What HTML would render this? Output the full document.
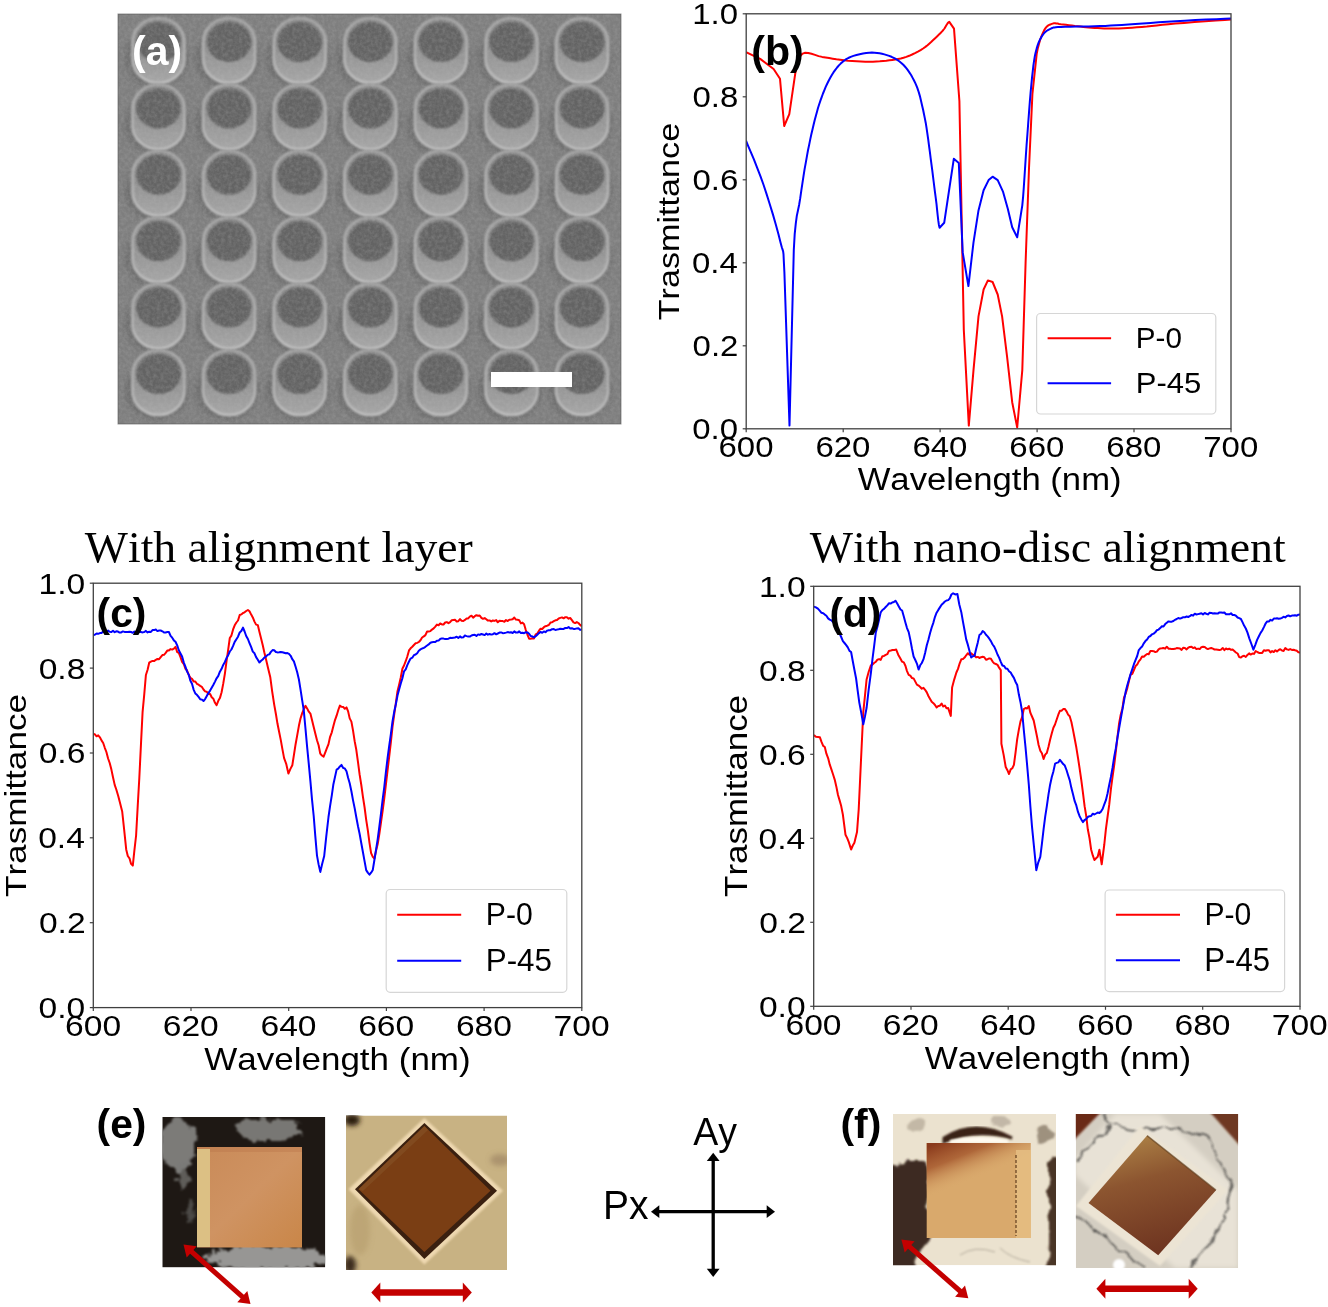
<!DOCTYPE html>
<html><head><meta charset="utf-8"><title>figure</title>
<style>html,body{margin:0;padding:0;background:#fff;} svg{display:block;will-change:transform;} text{font-kerning:none;}</style></head>
<body><svg width="1328" height="1307" viewBox="0 0 1328 1307">
<rect width="1328" height="1307" fill="#fff"/>
<defs><clipPath id="semclip"><rect x="118" y="14" width="503" height="410"/></clipPath><filter id="semnoise" x="0" y="0" width="100%" height="100%"><feTurbulence type="fractalNoise" baseFrequency="0.28" numOctaves="3" seed="3"/><feColorMatrix type="matrix" values="0 0 0 0 0.5  0 0 0 0 0.5  0 0 0 0 0.5  1.6 0 0 0 -0.5"/></filter><filter id="blur1" x="-10%" y="-10%" width="120%" height="120%"><feGaussianBlur stdDeviation="1.2"/></filter><filter id="blur2" x="-30%" y="-30%" width="160%" height="160%"><feGaussianBlur stdDeviation="2.5"/></filter><filter id="blur08"><feGaussianBlur stdDeviation="0.8"/></filter><linearGradient id="bodyg" x1="0" y1="0" x2="0" y2="1"><stop offset="0" stop-color="#888888"/><stop offset="0.5" stop-color="#939393"/><stop offset="1" stop-color="#a6a6a6"/></linearGradient><linearGradient id="rimg" x1="0" y1="0" x2="0" y2="1"><stop offset="0" stop-color="#a6a6a6"/><stop offset="0.6" stop-color="#b4b4b4"/><stop offset="1" stop-color="#c0c0c0"/></linearGradient></defs>
<g clip-path="url(#semclip)">
<rect x="118" y="14" width="503" height="410" fill="#7e7e7e"/>
<g filter="url(#blur2)">
<ellipse cx="156.5" cy="58.0" rx="32" ry="30" fill="#6e6e6e"/>
<ellipse cx="227.1" cy="58.0" rx="32" ry="30" fill="#6e6e6e"/>
<ellipse cx="297.7" cy="58.0" rx="32" ry="30" fill="#6e6e6e"/>
<ellipse cx="368.3" cy="58.0" rx="32" ry="30" fill="#6e6e6e"/>
<ellipse cx="438.9" cy="58.0" rx="32" ry="30" fill="#6e6e6e"/>
<ellipse cx="509.5" cy="58.0" rx="32" ry="30" fill="#6e6e6e"/>
<ellipse cx="580.1" cy="58.0" rx="32" ry="30" fill="#6e6e6e"/>
<ellipse cx="156.5" cy="124.4" rx="32" ry="30" fill="#6e6e6e"/>
<ellipse cx="227.1" cy="124.4" rx="32" ry="30" fill="#6e6e6e"/>
<ellipse cx="297.7" cy="124.4" rx="32" ry="30" fill="#6e6e6e"/>
<ellipse cx="368.3" cy="124.4" rx="32" ry="30" fill="#6e6e6e"/>
<ellipse cx="438.9" cy="124.4" rx="32" ry="30" fill="#6e6e6e"/>
<ellipse cx="509.5" cy="124.4" rx="32" ry="30" fill="#6e6e6e"/>
<ellipse cx="580.1" cy="124.4" rx="32" ry="30" fill="#6e6e6e"/>
<ellipse cx="156.5" cy="190.8" rx="32" ry="30" fill="#6e6e6e"/>
<ellipse cx="227.1" cy="190.8" rx="32" ry="30" fill="#6e6e6e"/>
<ellipse cx="297.7" cy="190.8" rx="32" ry="30" fill="#6e6e6e"/>
<ellipse cx="368.3" cy="190.8" rx="32" ry="30" fill="#6e6e6e"/>
<ellipse cx="438.9" cy="190.8" rx="32" ry="30" fill="#6e6e6e"/>
<ellipse cx="509.5" cy="190.8" rx="32" ry="30" fill="#6e6e6e"/>
<ellipse cx="580.1" cy="190.8" rx="32" ry="30" fill="#6e6e6e"/>
<ellipse cx="156.5" cy="257.2" rx="32" ry="30" fill="#6e6e6e"/>
<ellipse cx="227.1" cy="257.2" rx="32" ry="30" fill="#6e6e6e"/>
<ellipse cx="297.7" cy="257.2" rx="32" ry="30" fill="#6e6e6e"/>
<ellipse cx="368.3" cy="257.2" rx="32" ry="30" fill="#6e6e6e"/>
<ellipse cx="438.9" cy="257.2" rx="32" ry="30" fill="#6e6e6e"/>
<ellipse cx="509.5" cy="257.2" rx="32" ry="30" fill="#6e6e6e"/>
<ellipse cx="580.1" cy="257.2" rx="32" ry="30" fill="#6e6e6e"/>
<ellipse cx="156.5" cy="323.6" rx="32" ry="30" fill="#6e6e6e"/>
<ellipse cx="227.1" cy="323.6" rx="32" ry="30" fill="#6e6e6e"/>
<ellipse cx="297.7" cy="323.6" rx="32" ry="30" fill="#6e6e6e"/>
<ellipse cx="368.3" cy="323.6" rx="32" ry="30" fill="#6e6e6e"/>
<ellipse cx="438.9" cy="323.6" rx="32" ry="30" fill="#6e6e6e"/>
<ellipse cx="509.5" cy="323.6" rx="32" ry="30" fill="#6e6e6e"/>
<ellipse cx="580.1" cy="323.6" rx="32" ry="30" fill="#6e6e6e"/>
<ellipse cx="156.5" cy="390.0" rx="32" ry="30" fill="#6e6e6e"/>
<ellipse cx="227.1" cy="390.0" rx="32" ry="30" fill="#6e6e6e"/>
<ellipse cx="297.7" cy="390.0" rx="32" ry="30" fill="#6e6e6e"/>
<ellipse cx="368.3" cy="390.0" rx="32" ry="30" fill="#6e6e6e"/>
<ellipse cx="438.9" cy="390.0" rx="32" ry="30" fill="#6e6e6e"/>
<ellipse cx="509.5" cy="390.0" rx="32" ry="30" fill="#6e6e6e"/>
<ellipse cx="580.1" cy="390.0" rx="32" ry="30" fill="#6e6e6e"/>
</g>
<path d="M132.5,42.0 A26.0,24 0 0 1 184.5,42.0 L184.5,59.0 A26.0,24 0 0 1 132.5,59.0 Z" fill="url(#bodyg)" stroke="url(#rimg)" stroke-width="2.6" filter="url(#blur08)"/>
<ellipse cx="158.5" cy="42.0" rx="22.3" ry="20" fill="#646464" filter="url(#blur08)"/>
<path d="M203.1,42.0 A26.0,24 0 0 1 255.1,42.0 L255.1,59.0 A26.0,24 0 0 1 203.1,59.0 Z" fill="url(#bodyg)" stroke="url(#rimg)" stroke-width="2.6" filter="url(#blur08)"/>
<ellipse cx="229.1" cy="42.0" rx="22.3" ry="20" fill="#646464" filter="url(#blur08)"/>
<path d="M273.7,42.0 A26.0,24 0 0 1 325.7,42.0 L325.7,59.0 A26.0,24 0 0 1 273.7,59.0 Z" fill="url(#bodyg)" stroke="url(#rimg)" stroke-width="2.6" filter="url(#blur08)"/>
<ellipse cx="299.7" cy="42.0" rx="22.3" ry="20" fill="#646464" filter="url(#blur08)"/>
<path d="M344.3,42.0 A26.0,24 0 0 1 396.3,42.0 L396.3,59.0 A26.0,24 0 0 1 344.3,59.0 Z" fill="url(#bodyg)" stroke="url(#rimg)" stroke-width="2.6" filter="url(#blur08)"/>
<ellipse cx="370.3" cy="42.0" rx="22.3" ry="20" fill="#646464" filter="url(#blur08)"/>
<path d="M414.9,42.0 A26.0,24 0 0 1 466.9,42.0 L466.9,59.0 A26.0,24 0 0 1 414.9,59.0 Z" fill="url(#bodyg)" stroke="url(#rimg)" stroke-width="2.6" filter="url(#blur08)"/>
<ellipse cx="440.9" cy="42.0" rx="22.3" ry="20" fill="#646464" filter="url(#blur08)"/>
<path d="M485.5,42.0 A26.0,24 0 0 1 537.5,42.0 L537.5,59.0 A26.0,24 0 0 1 485.5,59.0 Z" fill="url(#bodyg)" stroke="url(#rimg)" stroke-width="2.6" filter="url(#blur08)"/>
<ellipse cx="511.5" cy="42.0" rx="22.3" ry="20" fill="#646464" filter="url(#blur08)"/>
<path d="M556.1,42.0 A26.0,24 0 0 1 608.1,42.0 L608.1,59.0 A26.0,24 0 0 1 556.1,59.0 Z" fill="url(#bodyg)" stroke="url(#rimg)" stroke-width="2.6" filter="url(#blur08)"/>
<ellipse cx="582.1" cy="42.0" rx="22.3" ry="20" fill="#646464" filter="url(#blur08)"/>
<path d="M132.5,108.4 A26.0,24 0 0 1 184.5,108.4 L184.5,125.4 A26.0,24 0 0 1 132.5,125.4 Z" fill="url(#bodyg)" stroke="url(#rimg)" stroke-width="2.6" filter="url(#blur08)"/>
<ellipse cx="158.5" cy="108.4" rx="22.3" ry="20" fill="#646464" filter="url(#blur08)"/>
<path d="M203.1,108.4 A26.0,24 0 0 1 255.1,108.4 L255.1,125.4 A26.0,24 0 0 1 203.1,125.4 Z" fill="url(#bodyg)" stroke="url(#rimg)" stroke-width="2.6" filter="url(#blur08)"/>
<ellipse cx="229.1" cy="108.4" rx="22.3" ry="20" fill="#646464" filter="url(#blur08)"/>
<path d="M273.7,108.4 A26.0,24 0 0 1 325.7,108.4 L325.7,125.4 A26.0,24 0 0 1 273.7,125.4 Z" fill="url(#bodyg)" stroke="url(#rimg)" stroke-width="2.6" filter="url(#blur08)"/>
<ellipse cx="299.7" cy="108.4" rx="22.3" ry="20" fill="#646464" filter="url(#blur08)"/>
<path d="M344.3,108.4 A26.0,24 0 0 1 396.3,108.4 L396.3,125.4 A26.0,24 0 0 1 344.3,125.4 Z" fill="url(#bodyg)" stroke="url(#rimg)" stroke-width="2.6" filter="url(#blur08)"/>
<ellipse cx="370.3" cy="108.4" rx="22.3" ry="20" fill="#646464" filter="url(#blur08)"/>
<path d="M414.9,108.4 A26.0,24 0 0 1 466.9,108.4 L466.9,125.4 A26.0,24 0 0 1 414.9,125.4 Z" fill="url(#bodyg)" stroke="url(#rimg)" stroke-width="2.6" filter="url(#blur08)"/>
<ellipse cx="440.9" cy="108.4" rx="22.3" ry="20" fill="#646464" filter="url(#blur08)"/>
<path d="M485.5,108.4 A26.0,24 0 0 1 537.5,108.4 L537.5,125.4 A26.0,24 0 0 1 485.5,125.4 Z" fill="url(#bodyg)" stroke="url(#rimg)" stroke-width="2.6" filter="url(#blur08)"/>
<ellipse cx="511.5" cy="108.4" rx="22.3" ry="20" fill="#646464" filter="url(#blur08)"/>
<path d="M556.1,108.4 A26.0,24 0 0 1 608.1,108.4 L608.1,125.4 A26.0,24 0 0 1 556.1,125.4 Z" fill="url(#bodyg)" stroke="url(#rimg)" stroke-width="2.6" filter="url(#blur08)"/>
<ellipse cx="582.1" cy="108.4" rx="22.3" ry="20" fill="#646464" filter="url(#blur08)"/>
<path d="M132.5,174.8 A26.0,24 0 0 1 184.5,174.8 L184.5,191.8 A26.0,24 0 0 1 132.5,191.8 Z" fill="url(#bodyg)" stroke="url(#rimg)" stroke-width="2.6" filter="url(#blur08)"/>
<ellipse cx="158.5" cy="174.8" rx="22.3" ry="20" fill="#646464" filter="url(#blur08)"/>
<path d="M203.1,174.8 A26.0,24 0 0 1 255.1,174.8 L255.1,191.8 A26.0,24 0 0 1 203.1,191.8 Z" fill="url(#bodyg)" stroke="url(#rimg)" stroke-width="2.6" filter="url(#blur08)"/>
<ellipse cx="229.1" cy="174.8" rx="22.3" ry="20" fill="#646464" filter="url(#blur08)"/>
<path d="M273.7,174.8 A26.0,24 0 0 1 325.7,174.8 L325.7,191.8 A26.0,24 0 0 1 273.7,191.8 Z" fill="url(#bodyg)" stroke="url(#rimg)" stroke-width="2.6" filter="url(#blur08)"/>
<ellipse cx="299.7" cy="174.8" rx="22.3" ry="20" fill="#646464" filter="url(#blur08)"/>
<path d="M344.3,174.8 A26.0,24 0 0 1 396.3,174.8 L396.3,191.8 A26.0,24 0 0 1 344.3,191.8 Z" fill="url(#bodyg)" stroke="url(#rimg)" stroke-width="2.6" filter="url(#blur08)"/>
<ellipse cx="370.3" cy="174.8" rx="22.3" ry="20" fill="#646464" filter="url(#blur08)"/>
<path d="M414.9,174.8 A26.0,24 0 0 1 466.9,174.8 L466.9,191.8 A26.0,24 0 0 1 414.9,191.8 Z" fill="url(#bodyg)" stroke="url(#rimg)" stroke-width="2.6" filter="url(#blur08)"/>
<ellipse cx="440.9" cy="174.8" rx="22.3" ry="20" fill="#646464" filter="url(#blur08)"/>
<path d="M485.5,174.8 A26.0,24 0 0 1 537.5,174.8 L537.5,191.8 A26.0,24 0 0 1 485.5,191.8 Z" fill="url(#bodyg)" stroke="url(#rimg)" stroke-width="2.6" filter="url(#blur08)"/>
<ellipse cx="511.5" cy="174.8" rx="22.3" ry="20" fill="#646464" filter="url(#blur08)"/>
<path d="M556.1,174.8 A26.0,24 0 0 1 608.1,174.8 L608.1,191.8 A26.0,24 0 0 1 556.1,191.8 Z" fill="url(#bodyg)" stroke="url(#rimg)" stroke-width="2.6" filter="url(#blur08)"/>
<ellipse cx="582.1" cy="174.8" rx="22.3" ry="20" fill="#646464" filter="url(#blur08)"/>
<path d="M132.5,241.2 A26.0,24 0 0 1 184.5,241.2 L184.5,258.2 A26.0,24 0 0 1 132.5,258.2 Z" fill="url(#bodyg)" stroke="url(#rimg)" stroke-width="2.6" filter="url(#blur08)"/>
<ellipse cx="158.5" cy="241.2" rx="22.3" ry="20" fill="#646464" filter="url(#blur08)"/>
<path d="M203.1,241.2 A26.0,24 0 0 1 255.1,241.2 L255.1,258.2 A26.0,24 0 0 1 203.1,258.2 Z" fill="url(#bodyg)" stroke="url(#rimg)" stroke-width="2.6" filter="url(#blur08)"/>
<ellipse cx="229.1" cy="241.2" rx="22.3" ry="20" fill="#646464" filter="url(#blur08)"/>
<path d="M273.7,241.2 A26.0,24 0 0 1 325.7,241.2 L325.7,258.2 A26.0,24 0 0 1 273.7,258.2 Z" fill="url(#bodyg)" stroke="url(#rimg)" stroke-width="2.6" filter="url(#blur08)"/>
<ellipse cx="299.7" cy="241.2" rx="22.3" ry="20" fill="#646464" filter="url(#blur08)"/>
<path d="M344.3,241.2 A26.0,24 0 0 1 396.3,241.2 L396.3,258.2 A26.0,24 0 0 1 344.3,258.2 Z" fill="url(#bodyg)" stroke="url(#rimg)" stroke-width="2.6" filter="url(#blur08)"/>
<ellipse cx="370.3" cy="241.2" rx="22.3" ry="20" fill="#646464" filter="url(#blur08)"/>
<path d="M414.9,241.2 A26.0,24 0 0 1 466.9,241.2 L466.9,258.2 A26.0,24 0 0 1 414.9,258.2 Z" fill="url(#bodyg)" stroke="url(#rimg)" stroke-width="2.6" filter="url(#blur08)"/>
<ellipse cx="440.9" cy="241.2" rx="22.3" ry="20" fill="#646464" filter="url(#blur08)"/>
<path d="M485.5,241.2 A26.0,24 0 0 1 537.5,241.2 L537.5,258.2 A26.0,24 0 0 1 485.5,258.2 Z" fill="url(#bodyg)" stroke="url(#rimg)" stroke-width="2.6" filter="url(#blur08)"/>
<ellipse cx="511.5" cy="241.2" rx="22.3" ry="20" fill="#646464" filter="url(#blur08)"/>
<path d="M556.1,241.2 A26.0,24 0 0 1 608.1,241.2 L608.1,258.2 A26.0,24 0 0 1 556.1,258.2 Z" fill="url(#bodyg)" stroke="url(#rimg)" stroke-width="2.6" filter="url(#blur08)"/>
<ellipse cx="582.1" cy="241.2" rx="22.3" ry="20" fill="#646464" filter="url(#blur08)"/>
<path d="M132.5,307.6 A26.0,24 0 0 1 184.5,307.6 L184.5,324.6 A26.0,24 0 0 1 132.5,324.6 Z" fill="url(#bodyg)" stroke="url(#rimg)" stroke-width="2.6" filter="url(#blur08)"/>
<ellipse cx="158.5" cy="307.6" rx="22.3" ry="20" fill="#646464" filter="url(#blur08)"/>
<path d="M203.1,307.6 A26.0,24 0 0 1 255.1,307.6 L255.1,324.6 A26.0,24 0 0 1 203.1,324.6 Z" fill="url(#bodyg)" stroke="url(#rimg)" stroke-width="2.6" filter="url(#blur08)"/>
<ellipse cx="229.1" cy="307.6" rx="22.3" ry="20" fill="#646464" filter="url(#blur08)"/>
<path d="M273.7,307.6 A26.0,24 0 0 1 325.7,307.6 L325.7,324.6 A26.0,24 0 0 1 273.7,324.6 Z" fill="url(#bodyg)" stroke="url(#rimg)" stroke-width="2.6" filter="url(#blur08)"/>
<ellipse cx="299.7" cy="307.6" rx="22.3" ry="20" fill="#646464" filter="url(#blur08)"/>
<path d="M344.3,307.6 A26.0,24 0 0 1 396.3,307.6 L396.3,324.6 A26.0,24 0 0 1 344.3,324.6 Z" fill="url(#bodyg)" stroke="url(#rimg)" stroke-width="2.6" filter="url(#blur08)"/>
<ellipse cx="370.3" cy="307.6" rx="22.3" ry="20" fill="#646464" filter="url(#blur08)"/>
<path d="M414.9,307.6 A26.0,24 0 0 1 466.9,307.6 L466.9,324.6 A26.0,24 0 0 1 414.9,324.6 Z" fill="url(#bodyg)" stroke="url(#rimg)" stroke-width="2.6" filter="url(#blur08)"/>
<ellipse cx="440.9" cy="307.6" rx="22.3" ry="20" fill="#646464" filter="url(#blur08)"/>
<path d="M485.5,307.6 A26.0,24 0 0 1 537.5,307.6 L537.5,324.6 A26.0,24 0 0 1 485.5,324.6 Z" fill="url(#bodyg)" stroke="url(#rimg)" stroke-width="2.6" filter="url(#blur08)"/>
<ellipse cx="511.5" cy="307.6" rx="22.3" ry="20" fill="#646464" filter="url(#blur08)"/>
<path d="M556.1,307.6 A26.0,24 0 0 1 608.1,307.6 L608.1,324.6 A26.0,24 0 0 1 556.1,324.6 Z" fill="url(#bodyg)" stroke="url(#rimg)" stroke-width="2.6" filter="url(#blur08)"/>
<ellipse cx="582.1" cy="307.6" rx="22.3" ry="20" fill="#646464" filter="url(#blur08)"/>
<path d="M132.5,374.0 A26.0,24 0 0 1 184.5,374.0 L184.5,391.0 A26.0,24 0 0 1 132.5,391.0 Z" fill="url(#bodyg)" stroke="url(#rimg)" stroke-width="2.6" filter="url(#blur08)"/>
<ellipse cx="158.5" cy="374.0" rx="22.3" ry="20" fill="#646464" filter="url(#blur08)"/>
<path d="M203.1,374.0 A26.0,24 0 0 1 255.1,374.0 L255.1,391.0 A26.0,24 0 0 1 203.1,391.0 Z" fill="url(#bodyg)" stroke="url(#rimg)" stroke-width="2.6" filter="url(#blur08)"/>
<ellipse cx="229.1" cy="374.0" rx="22.3" ry="20" fill="#646464" filter="url(#blur08)"/>
<path d="M273.7,374.0 A26.0,24 0 0 1 325.7,374.0 L325.7,391.0 A26.0,24 0 0 1 273.7,391.0 Z" fill="url(#bodyg)" stroke="url(#rimg)" stroke-width="2.6" filter="url(#blur08)"/>
<ellipse cx="299.7" cy="374.0" rx="22.3" ry="20" fill="#646464" filter="url(#blur08)"/>
<path d="M344.3,374.0 A26.0,24 0 0 1 396.3,374.0 L396.3,391.0 A26.0,24 0 0 1 344.3,391.0 Z" fill="url(#bodyg)" stroke="url(#rimg)" stroke-width="2.6" filter="url(#blur08)"/>
<ellipse cx="370.3" cy="374.0" rx="22.3" ry="20" fill="#646464" filter="url(#blur08)"/>
<path d="M414.9,374.0 A26.0,24 0 0 1 466.9,374.0 L466.9,391.0 A26.0,24 0 0 1 414.9,391.0 Z" fill="url(#bodyg)" stroke="url(#rimg)" stroke-width="2.6" filter="url(#blur08)"/>
<ellipse cx="440.9" cy="374.0" rx="22.3" ry="20" fill="#646464" filter="url(#blur08)"/>
<path d="M485.5,374.0 A26.0,24 0 0 1 537.5,374.0 L537.5,391.0 A26.0,24 0 0 1 485.5,391.0 Z" fill="url(#bodyg)" stroke="url(#rimg)" stroke-width="2.6" filter="url(#blur08)"/>
<ellipse cx="511.5" cy="374.0" rx="22.3" ry="20" fill="#646464" filter="url(#blur08)"/>
<path d="M556.1,374.0 A26.0,24 0 0 1 608.1,374.0 L608.1,391.0 A26.0,24 0 0 1 556.1,391.0 Z" fill="url(#bodyg)" stroke="url(#rimg)" stroke-width="2.6" filter="url(#blur08)"/>
<ellipse cx="582.1" cy="374.0" rx="22.3" ry="20" fill="#646464" filter="url(#blur08)"/>
<rect x="118" y="14" width="503" height="410" filter="url(#semnoise)" opacity="0.25"/>
</g>
<rect x="118" y="14" width="503" height="410" fill="none" stroke="#555" stroke-width="1" opacity="0.6"/>
<rect x="491" y="372" width="81" height="15" fill="#ffffff"/>
<text transform="translate(132.06,65.38) scale(0.9848,1)" font-family='"Liberation Sans", sans-serif' font-weight="bold" font-size="41.52" fill="#ffffff">(a)</text>
<defs><clipPath id="clipb"><rect x="746.2" y="11.8" width="484.79999999999995" height="419.0"/></clipPath></defs>
<g clip-path="url(#clipb)">
<path d="M746.0,52.2 L760.2,58.9 L773.6,69.0 L780.0,78.8 L784.2,126.0 L789.3,114.2 L795.2,73.8 L796.2,69.0 L797.1,64.7 L798.1,61.0 L799.3,57.8 L800.7,55.4 L802.7,53.6 L805.2,52.8 L808.2,53.0 L811.5,53.8 L815.0,54.9 L818.6,56.1 L822.1,56.9 L825.6,57.5 L829.1,58.1 L832.7,58.7 L836.4,59.3 L840.1,59.8 L844.0,60.3 L848.1,60.7 L852.3,61.0 L856.7,61.3 L861.0,61.5 L865.3,61.7 L869.2,61.7 L872.9,61.7 L876.4,61.5 L879.8,61.3 L883.1,61.0 L886.3,60.7 L889.4,60.3 L892.4,59.9 L895.3,59.5 L898.1,59.0 L900.8,58.5 L903.5,57.8 L906.3,56.9 L909.2,55.8 L912.1,54.5 L915.0,53.1 L917.9,51.6 L920.6,50.1 L923.1,48.5 L925.4,46.9 L927.5,45.2 L929.5,43.4 L931.4,41.7 L933.2,40.0 L934.9,38.4 L936.5,36.9 L938.0,35.5 L939.5,34.1 L940.8,32.7 L942.1,31.4 L943.3,30.0 L944.5,28.5 L945.5,26.7 L946.5,25.0 L947.5,23.5 L948.4,22.4 L949.3,21.9 L954.0,28.6 L959.4,101.0 L963.8,329.7 L968.8,425.6 L973.5,370.2 L978.5,316.4 L983.6,289.5 L987.9,280.4 L992.6,282.0 L997.7,294.5 L1002.1,316.4 L1007.1,356.8 L1012.2,402.2 L1017.2,427.5 L1022.3,370.2 L1025.6,262.5 L1029.0,168.3 L1032.4,94.2 L1036.7,53.9 L1037.7,48.8 L1038.9,44.2 L1040.1,40.0 L1041.4,36.3 L1042.8,33.1 L1044.1,30.3 L1045.5,28.1 L1046.9,26.5 L1048.3,25.4 L1049.7,24.7 L1051.2,24.1 L1052.6,23.6 L1053.9,23.3 L1055.1,23.2 L1056.3,23.4 L1057.6,23.6 L1059.1,23.9 L1061.0,24.2 L1063.3,24.5 L1066.0,24.8 L1068.9,25.2 L1071.9,25.6 L1074.9,26.0 L1077.8,26.3 L1080.6,26.6 L1083.3,26.9 L1086.0,27.2 L1088.7,27.5 L1091.6,27.7 L1094.6,27.9 L1097.7,28.1 L1100.8,28.3 L1104.1,28.5 L1107.4,28.6 L1111.0,28.6 L1114.8,28.6 L1118.8,28.5 L1123.1,28.3 L1127.5,28.0 L1132.1,27.7 L1136.8,27.3 L1141.8,26.9 L1146.8,26.5 L1151.7,25.9 L1156.8,25.4 L1162.3,24.8 L1168.5,24.2 L1175.4,23.6 L1184.0,22.9 L1194.4,22.1 L1205.3,21.3 L1215.8,20.6 L1224.7,20.0 L1231.0,19.5" fill="none" stroke="#ff0000" stroke-width="2.0" stroke-linejoin="round"/>
<path d="M746.0,140.6 L747.9,145.3 L750.6,151.6 L753.8,159.2 L757.1,167.6 L760.5,176.4 L763.6,185.0 L766.6,194.1 L769.7,204.0 L772.9,214.4 L775.8,224.5 L778.4,233.9 L780.4,242.0 L781.8,247.2 L782.6,249.6 L783.1,251.2 L783.5,254.2 L783.8,260.6 L784.4,272.5 L789.5,425.6 L793.8,250.0 L794.7,234.1 L795.8,223.3 L796.8,215.9 L798.0,210.3 L799.1,205.0 L800.2,198.4 L801.3,190.7 L802.4,183.3 L803.5,176.1 L804.6,169.2 L805.8,162.6 L806.9,156.3 L808.0,150.3 L809.2,144.6 L810.3,139.1 L811.4,134.0 L812.6,129.0 L813.7,124.3 L814.8,119.8 L815.9,115.7 L817.0,111.8 L818.0,108.0 L819.2,104.3 L820.4,100.7 L821.7,97.1 L823.0,93.5 L824.4,90.1 L825.8,86.7 L827.3,83.5 L828.8,80.5 L830.4,77.6 L832.0,74.8 L833.6,72.2 L835.3,69.8 L837.1,67.5 L838.9,65.4 L840.7,63.6 L842.5,61.9 L844.3,60.5 L846.2,59.2 L848.3,58.0 L850.7,56.9 L853.4,55.9 L856.5,55.0 L859.7,54.2 L863.0,53.5 L866.2,53.0 L869.2,52.7 L871.9,52.6 L874.6,52.7 L877.1,52.9 L879.6,53.3 L882.0,53.8 L884.4,54.4 L886.8,55.1 L889.2,55.9 L891.5,56.8 L893.7,57.9 L895.9,59.0 L897.9,60.3 L899.8,61.7 L901.6,63.2 L903.3,64.8 L904.9,66.5 L906.5,68.4 L908.0,70.4 L909.5,72.6 L911.1,75.0 L912.5,77.6 L913.9,80.2 L915.2,82.9 L916.4,85.6 L917.4,88.2 L918.3,90.8 L919.1,93.4 L919.9,96.1 L920.6,99.1 L921.4,102.4 L922.2,106.0 L923.1,109.8 L923.9,113.8 L924.8,118.1 L925.7,122.7 L926.5,127.7 L927.3,133.2 L928.2,139.3 L929.0,145.7 L929.9,152.2 L930.7,158.6 L931.5,164.7 L932.3,170.6 L933.0,176.3 L933.7,182.0 L934.4,187.6 L935.1,193.1 L935.8,198.4 L936.5,203.9 L937.1,209.8 L937.7,215.5 L938.3,220.7 L938.9,224.9 L939.6,227.8 L944.2,222.8 L953.8,158.8 L958.8,163.0 L962.7,252.4 L968.4,286.1 L973.5,242.3 L978.5,210.4 L983.6,190.2 L988.6,180.1 L992.6,176.7 L997.7,180.1 L1003.1,191.9 L1007.8,208.7 L1012.2,227.2 L1017.2,237.3 L1022.3,205.3 L1023.1,196.9 L1023.8,187.2 L1024.5,176.8 L1025.2,166.0 L1025.9,155.1 L1026.6,144.7 L1027.4,134.3 L1028.2,123.4 L1029.0,112.6 L1029.8,102.2 L1030.6,92.5 L1031.4,84.1 L1032.1,76.9 L1032.8,70.8 L1033.4,65.4 L1034.1,60.7 L1034.8,56.3 L1035.7,52.2 L1036.7,48.4 L1037.7,45.1 L1038.8,42.2 L1040.0,39.6 L1041.2,37.4 L1042.5,35.3 L1043.8,33.5 L1045.1,32.1 L1046.5,31.0 L1047.9,30.1 L1049.4,29.3 L1050.9,28.6 L1052.2,28.0 L1053.3,27.6 L1054.4,27.4 L1055.8,27.2 L1057.9,27.1 L1061.0,26.9 L1065.2,26.7 L1070.5,26.7 L1076.3,26.6 L1082.5,26.5 L1088.7,26.5 L1094.6,26.3 L1100.1,26.1 L1105.3,25.9 L1110.6,25.6 L1116.1,25.3 L1121.9,25.0 L1128.3,24.6 L1135.3,24.1 L1142.7,23.6 L1150.5,23.0 L1158.6,22.3 L1166.9,21.7 L1175.4,21.2 L1184.8,20.7 L1195.4,20.1 L1206.1,19.6 L1216.3,19.2 L1224.9,18.8 L1231.0,18.5" fill="none" stroke="#0000ff" stroke-width="2.0" stroke-linejoin="round"/>
</g>
<rect x="746.2" y="13.8" width="484.79999999999995" height="415.0" fill="none" stroke="#404040" stroke-width="1.3"/>
<line x1="742.7" y1="428.8" x2="746.2" y2="428.8" stroke="#404040" stroke-width="1.2"/>
<text transform="translate(692.24,438.96) scale(1.1180,1)" font-family='"Liberation Sans", sans-serif' font-weight="normal" font-size="29.50" fill="#000">0.0</text>
<line x1="742.7" y1="345.8" x2="746.2" y2="345.8" stroke="#404040" stroke-width="1.2"/>
<text transform="translate(692.61,355.96) scale(1.1180,1)" font-family='"Liberation Sans", sans-serif' font-weight="normal" font-size="29.50" fill="#000">0.2</text>
<line x1="742.7" y1="262.8" x2="746.2" y2="262.8" stroke="#404040" stroke-width="1.2"/>
<text transform="translate(691.92,272.96) scale(1.1180,1)" font-family='"Liberation Sans", sans-serif' font-weight="normal" font-size="29.50" fill="#000">0.4</text>
<line x1="742.7" y1="179.8" x2="746.2" y2="179.8" stroke="#404040" stroke-width="1.2"/>
<text transform="translate(692.40,189.96) scale(1.1180,1)" font-family='"Liberation Sans", sans-serif' font-weight="normal" font-size="29.50" fill="#000">0.6</text>
<line x1="742.7" y1="96.8" x2="746.2" y2="96.8" stroke="#404040" stroke-width="1.2"/>
<text transform="translate(692.39,106.96) scale(1.1180,1)" font-family='"Liberation Sans", sans-serif' font-weight="normal" font-size="29.50" fill="#000">0.8</text>
<line x1="742.7" y1="13.8" x2="746.2" y2="13.8" stroke="#404040" stroke-width="1.2"/>
<text transform="translate(692.24,23.96) scale(1.1180,1)" font-family='"Liberation Sans", sans-serif' font-weight="normal" font-size="29.50" fill="#000">1.0</text>
<line x1="746.2" y1="428.8" x2="746.2" y2="432.3" stroke="#404040" stroke-width="1.2"/>
<text transform="translate(718.49,457.00) scale(1.1180,1)" font-family='"Liberation Sans", sans-serif' font-weight="normal" font-size="29.50" fill="#000">600</text>
<line x1="843.2" y1="428.8" x2="843.2" y2="432.3" stroke="#404040" stroke-width="1.2"/>
<text transform="translate(815.45,457.00) scale(1.1180,1)" font-family='"Liberation Sans", sans-serif' font-weight="normal" font-size="29.50" fill="#000">620</text>
<line x1="940.1" y1="428.8" x2="940.1" y2="432.3" stroke="#404040" stroke-width="1.2"/>
<text transform="translate(912.41,457.00) scale(1.1180,1)" font-family='"Liberation Sans", sans-serif' font-weight="normal" font-size="29.50" fill="#000">640</text>
<line x1="1037.1" y1="428.8" x2="1037.1" y2="432.3" stroke="#404040" stroke-width="1.2"/>
<text transform="translate(1009.37,457.00) scale(1.1180,1)" font-family='"Liberation Sans", sans-serif' font-weight="normal" font-size="29.50" fill="#000">660</text>
<line x1="1134.0" y1="428.8" x2="1134.0" y2="432.3" stroke="#404040" stroke-width="1.2"/>
<text transform="translate(1106.33,457.00) scale(1.1180,1)" font-family='"Liberation Sans", sans-serif' font-weight="normal" font-size="29.50" fill="#000">680</text>
<line x1="1231.0" y1="428.8" x2="1231.0" y2="432.3" stroke="#404040" stroke-width="1.2"/>
<text transform="translate(1203.29,457.00) scale(1.1180,1)" font-family='"Liberation Sans", sans-serif' font-weight="normal" font-size="29.50" fill="#000">700</text>
<text transform="translate(857.65,490.10) scale(1.0943,1)" font-family='"Liberation Sans", sans-serif' font-weight="normal" font-size="31.69" fill="#000">Wavelength (nm)</text>
<text transform="translate(679.30,320.37) rotate(-90) scale(1.1259,1)" font-family='"Liberation Sans", sans-serif' font-weight="normal" font-size="30.37" fill="#000">Trasmittance</text>
<text transform="translate(751.25,64.92) scale(1.0079,1)" font-family='"Liberation Sans", sans-serif' font-weight="bold" font-size="40.87" fill="#000">(b)</text>
<rect x="1036.6" y="313.5" width="179.20000000000005" height="100.5" rx="4" fill="#ffffff" fill-opacity="0.8" stroke="#d6d6d6" stroke-width="1.2"/>
<line x1="1047.6" y1="338.2" x2="1111.1" y2="338.2" stroke="#ff0000" stroke-width="2.0"/>
<line x1="1047.6" y1="383.3" x2="1111.1" y2="383.3" stroke="#0000ff" stroke-width="2.0"/>
<text transform="translate(1135.87,348.11) scale(0.9844,1)" font-family='"Liberation Sans", sans-serif' font-weight="normal" font-size="30.08" fill="#000">P-0</text>
<text transform="translate(1135.76,393.10) scale(1.0197,1)" font-family='"Liberation Sans", sans-serif' font-weight="normal" font-size="30.38" fill="#000">P-45</text>
<defs><clipPath id="clipc"><rect x="93.3" y="581.2" width="488.49999999999994" height="428.4"/></clipPath></defs>
<g clip-path="url(#clipc)">
<path d="M93.3,734.1 L94.9,734.3 L96.6,736.3 L98.2,735.4 L99.9,737.3 L101.5,740.4 L103.2,743.0 L104.8,747.8 L106.4,752.0 L108.1,758.5 L109.7,763.0 L111.4,769.6 L113.0,777.2 L114.7,784.9 L116.3,789.5 L118.3,796.3 L120.3,804.0 L122.2,811.5 L124.2,830.2 L126.2,849.4 L127.8,856.0 L129.5,858.3 L131.1,863.9 L132.8,865.6 L134.4,850.4 L136.1,835.5 L137.7,806.4 L139.3,778.3 L141.0,743.6 L142.6,711.8 L144.3,693.9 L145.9,675.0 L147.6,669.8 L149.2,662.7 L150.9,661.6 L152.5,660.9 L154.1,661.1 L155.8,659.8 L157.4,659.0 L159.1,659.2 L160.7,657.2 L162.4,655.1 L164.0,654.8 L165.7,652.9 L167.3,650.6 L168.9,650.4 L170.6,649.1 L172.2,649.6 L173.9,648.6 L175.5,646.8 L177.2,652.1 L178.8,652.9 L180.5,657.1 L182.1,661.9 L183.8,664.0 L185.4,668.8 L187.0,670.3 L188.7,674.8 L190.3,677.8 L192.0,678.9 L193.6,681.4 L195.3,681.5 L196.9,683.8 L198.6,684.7 L200.2,685.9 L201.8,686.8 L203.5,689.5 L205.1,691.4 L206.8,691.8 L208.4,693.9 L210.1,693.9 L211.7,697.3 L213.4,698.8 L215.0,702.8 L216.6,705.2 L218.3,700.8 L219.9,698.1 L221.6,692.3 L223.2,683.9 L224.9,673.6 L226.5,661.3 L228.2,649.7 L229.8,638.0 L231.4,635.6 L233.1,629.4 L234.7,625.3 L236.4,622.5 L238.0,620.5 L239.7,615.0 L241.3,614.4 L243.0,613.0 L244.6,612.3 L246.2,611.0 L247.9,610.0 L249.5,611.3 L251.2,614.6 L252.8,617.4 L254.5,621.6 L256.1,624.6 L257.8,625.1 L259.4,631.7 L261.1,638.5 L262.7,645.0 L264.3,652.3 L266.0,659.2 L268.1,668.2 L270.3,677.3 L272.2,691.6 L274.2,704.6 L275.9,714.0 L277.5,723.8 L279.1,731.8 L280.8,740.1 L282.4,749.2 L284.1,758.1 L286.2,763.8 L288.4,773.6 L290.3,769.1 L292.3,765.3 L293.9,755.2 L295.6,744.2 L297.2,735.4 L298.9,725.8 L300.5,718.5 L302.2,713.1 L303.8,709.3 L305.5,705.8 L307.1,708.4 L308.8,711.7 L310.4,713.6 L312.0,720.0 L313.7,727.0 L315.3,733.5 L317.0,740.3 L318.6,745.3 L320.3,753.7 L321.9,755.5 L323.6,756.6 L325.2,752.6 L326.8,748.4 L328.5,744.1 L330.1,736.8 L331.8,732.3 L333.4,726.1 L335.0,720.1 L336.6,715.7 L338.3,710.0 L339.9,705.6 L341.5,706.7 L343.2,706.9 L344.8,708.8 L346.5,707.4 L348.1,711.4 L349.7,718.4 L351.4,721.6 L353.0,730.4 L354.7,741.4 L356.3,749.8 L358.0,762.2 L359.6,774.4 L361.3,785.0 L362.9,796.6 L364.6,807.5 L366.2,819.8 L367.8,830.2 L369.5,842.9 L371.1,853.2 L372.8,856.9 L374.4,858.6 L376.1,850.4 L377.7,844.1 L379.4,833.6 L381.0,822.3 L382.6,811.2 L384.3,798.1 L385.9,784.7 L387.6,770.1 L389.2,756.6 L390.9,741.9 L392.5,726.8 L394.2,714.7 L395.8,703.3 L397.5,691.2 L399.1,684.7 L400.7,677.8 L402.4,668.7 L404.0,665.5 L405.7,661.2 L407.3,656.5 L409.0,650.4 L410.6,648.3 L412.3,646.7 L413.9,645.0 L415.6,643.3 L417.2,642.9 L418.8,642.0 L420.5,640.2 L422.1,637.5 L423.8,636.4 L425.4,635.1 L427.1,631.5 L428.7,631.5 L430.4,631.1 L432.0,629.6 L433.7,628.4 L435.3,626.6 L436.9,624.6 L438.6,625.2 L440.2,623.5 L441.9,624.4 L443.5,624.5 L445.2,622.5 L446.8,622.1 L448.5,623.2 L450.1,622.2 L451.8,620.2 L453.4,619.9 L455.0,619.7 L456.7,621.6 L458.3,621.2 L460.0,619.1 L461.6,620.8 L463.3,621.0 L464.9,619.9 L466.6,618.5 L468.2,618.4 L469.8,616.6 L471.5,615.7 L473.1,617.7 L474.8,616.2 L476.4,615.2 L478.1,615.8 L479.7,615.5 L481.4,617.8 L483.0,618.8 L484.7,618.1 L486.3,619.3 L487.9,620.6 L489.6,620.4 L491.2,621.4 L492.9,620.5 L494.5,620.9 L496.2,620.1 L497.8,622.3 L499.5,620.7 L501.1,621.0 L502.8,621.1 L504.4,621.7 L506.0,620.0 L507.7,621.1 L509.3,619.7 L511.0,619.5 L512.6,619.2 L514.3,617.5 L515.9,619.6 L517.6,619.8 L519.2,620.2 L520.9,623.4 L522.5,622.6 L524.1,624.3 L525.8,630.0 L527.4,634.5 L529.1,638.7 L530.7,638.7 L532.4,638.3 L534.0,638.4 L535.7,634.4 L537.3,633.6 L539.0,630.7 L540.6,628.7 L542.2,629.0 L543.9,627.2 L545.5,626.2 L547.2,625.7 L548.8,625.0 L550.5,622.6 L552.1,622.3 L553.8,621.1 L555.4,620.3 L557.0,620.0 L558.7,618.5 L560.3,617.9 L562.0,617.4 L563.6,618.3 L565.3,617.2 L566.9,617.3 L568.6,618.7 L570.2,618.0 L571.9,620.1 L573.5,622.4 L575.1,623.1 L576.8,622.1 L578.4,623.0 L580.1,624.9 L581.7,626.1" fill="none" stroke="#ff0000" stroke-width="2.0" stroke-linejoin="round"/>
<path d="M93.3,635.2 L94.9,634.6 L96.6,633.5 L98.2,633.8 L99.9,633.1 L101.5,633.1 L103.2,631.5 L104.8,632.2 L106.4,631.8 L108.1,630.6 L109.7,631.7 L111.4,632.0 L113.0,630.7 L114.7,632.2 L116.3,631.3 L118.0,631.6 L119.6,632.6 L121.2,632.4 L122.9,631.4 L124.5,631.9 L126.2,632.1 L127.8,631.9 L129.5,631.7 L131.1,632.0 L132.8,632.8 L134.4,631.6 L136.1,632.6 L137.7,632.5 L139.3,631.8 L141.0,632.1 L142.6,632.4 L144.3,632.0 L145.9,630.9 L147.6,632.4 L149.2,631.8 L150.9,631.9 L152.5,630.1 L154.1,630.1 L155.8,629.5 L157.4,631.1 L159.1,630.5 L160.7,630.5 L162.4,631.3 L164.0,632.5 L165.7,632.6 L167.3,631.9 L168.9,632.0 L170.6,635.9 L172.2,637.7 L173.9,640.4 L175.5,641.8 L177.2,645.4 L178.8,650.2 L180.5,653.5 L182.1,656.5 L183.8,662.6 L185.4,666.6 L187.0,671.4 L188.7,674.6 L190.3,680.6 L192.0,683.7 L193.6,689.6 L195.3,693.4 L196.9,694.8 L198.6,696.9 L200.2,699.2 L201.8,699.6 L203.5,701.0 L205.1,699.1 L206.8,696.0 L208.4,693.1 L210.1,690.6 L211.7,687.7 L213.4,684.7 L215.0,681.6 L216.6,678.3 L218.3,675.9 L219.9,671.7 L221.6,668.8 L223.2,664.9 L224.9,662.0 L226.5,658.1 L228.2,655.2 L229.8,651.5 L231.4,649.5 L233.1,645.9 L234.7,641.9 L236.4,639.2 L238.0,636.7 L239.7,632.5 L241.3,631.0 L243.0,627.6 L244.6,631.5 L246.2,636.0 L247.9,639.0 L249.5,643.1 L251.2,647.2 L252.8,651.6 L254.5,653.3 L256.1,657.1 L257.8,659.7 L259.4,662.5 L261.1,660.8 L262.7,659.5 L264.3,657.7 L266.0,656.6 L267.6,654.9 L269.3,654.4 L270.9,651.9 L272.6,650.1 L274.2,650.3 L275.9,652.0 L277.5,652.4 L279.1,652.3 L280.8,652.0 L282.4,652.2 L284.1,652.7 L285.7,653.3 L287.4,653.1 L289.0,653.9 L290.7,655.8 L292.3,659.2 L293.9,661.4 L295.6,666.7 L297.2,672.2 L298.9,679.5 L300.5,689.3 L302.2,700.4 L303.8,710.7 L305.5,728.9 L307.1,746.6 L308.8,764.2 L310.4,781.2 L312.0,799.3 L313.7,816.0 L315.3,836.2 L317.0,855.6 L318.6,864.4 L320.3,871.9 L322.2,863.7 L324.2,856.0 L326.3,836.1 L328.5,817.0 L330.1,805.9 L331.8,795.4 L333.4,784.2 L336.6,769.6 L338.2,768.6 L339.9,766.4 L341.5,764.9 L343.2,768.0 L344.8,768.4 L346.5,771.3 L348.1,777.7 L349.7,783.2 L351.4,791.2 L353.0,800.1 L354.7,808.4 L356.3,817.3 L358.0,826.3 L359.6,833.8 L361.3,843.3 L362.9,852.0 L364.6,861.4 L366.2,870.1 L367.8,872.6 L369.5,874.7 L371.1,872.7 L372.8,869.9 L374.4,860.0 L376.1,849.3 L377.7,839.1 L379.4,826.1 L381.0,813.4 L382.6,799.8 L384.3,786.8 L385.9,772.1 L387.6,757.9 L389.2,745.9 L390.9,733.9 L392.5,721.5 L394.2,711.8 L395.8,704.5 L397.5,695.6 L399.1,689.4 L400.7,683.7 L402.4,678.2 L404.0,671.4 L405.7,669.3 L407.3,665.1 L409.0,661.5 L410.6,658.6 L412.3,657.7 L413.9,655.2 L415.6,654.5 L417.2,653.2 L418.8,650.7 L420.5,649.4 L422.1,648.5 L423.8,647.8 L425.4,646.8 L427.1,645.5 L428.7,644.4 L430.4,642.8 L432.0,642.3 L433.7,641.9 L435.3,642.1 L436.9,640.7 L438.6,640.6 L440.2,639.0 L441.9,638.4 L443.5,638.6 L445.2,639.1 L446.8,639.0 L448.5,638.7 L450.1,637.8 L451.8,638.0 L453.4,637.7 L455.0,637.5 L456.7,636.7 L458.3,637.9 L460.0,636.4 L461.6,637.6 L463.3,637.3 L464.9,635.5 L466.6,636.1 L468.2,636.5 L469.8,636.6 L471.5,635.5 L473.1,635.0 L474.8,634.8 L476.4,635.9 L478.1,634.4 L479.7,634.9 L481.4,634.0 L483.0,634.5 L484.7,635.1 L486.3,633.5 L487.9,634.7 L489.6,634.0 L491.2,634.6 L492.9,634.2 L494.5,633.2 L496.2,634.3 L497.8,633.5 L499.5,632.6 L501.1,632.4 L502.8,633.2 L504.4,633.0 L506.0,632.6 L507.7,632.1 L509.3,632.4 L511.0,632.2 L512.6,633.0 L514.3,631.4 L515.9,632.6 L517.6,632.6 L519.2,631.4 L520.9,633.0 L522.5,632.7 L524.1,633.2 L525.8,632.2 L527.4,632.4 L529.1,633.7 L530.7,636.0 L532.4,636.5 L534.0,637.3 L535.7,636.2 L537.3,634.7 L539.0,633.1 L540.6,631.9 L542.2,632.8 L543.9,631.4 L545.5,632.2 L547.2,630.6 L548.8,630.2 L550.5,630.2 L552.1,629.2 L553.8,629.1 L555.4,630.0 L557.0,629.6 L558.7,629.3 L560.3,628.8 L562.0,629.1 L563.6,628.9 L565.3,628.0 L566.9,628.1 L568.6,627.1 L570.2,628.5 L571.9,628.2 L573.5,628.9 L575.1,628.9 L576.8,628.4 L578.4,628.2 L580.1,629.9 L581.7,629.4" fill="none" stroke="#0000ff" stroke-width="2.0" stroke-linejoin="round"/>
</g>
<rect x="93.3" y="583.2" width="488.49999999999994" height="424.4" fill="none" stroke="#404040" stroke-width="1.3"/>
<line x1="89.8" y1="1007.6" x2="93.3" y2="1007.6" stroke="#404040" stroke-width="1.2"/>
<text transform="translate(38.51,1018.06) scale(1.1050,1)" font-family='"Liberation Sans", sans-serif' font-weight="normal" font-size="30.40" fill="#000">0.0</text>
<line x1="89.8" y1="922.7" x2="93.3" y2="922.7" stroke="#404040" stroke-width="1.2"/>
<text transform="translate(38.89,933.18) scale(1.1050,1)" font-family='"Liberation Sans", sans-serif' font-weight="normal" font-size="30.40" fill="#000">0.2</text>
<line x1="89.8" y1="837.8" x2="93.3" y2="837.8" stroke="#404040" stroke-width="1.2"/>
<text transform="translate(38.19,848.30) scale(1.1050,1)" font-family='"Liberation Sans", sans-serif' font-weight="normal" font-size="30.40" fill="#000">0.4</text>
<line x1="89.8" y1="753.0" x2="93.3" y2="753.0" stroke="#404040" stroke-width="1.2"/>
<text transform="translate(38.68,763.42) scale(1.1050,1)" font-family='"Liberation Sans", sans-serif' font-weight="normal" font-size="30.40" fill="#000">0.6</text>
<line x1="89.8" y1="668.1" x2="93.3" y2="668.1" stroke="#404040" stroke-width="1.2"/>
<text transform="translate(38.66,678.54) scale(1.1050,1)" font-family='"Liberation Sans", sans-serif' font-weight="normal" font-size="30.40" fill="#000">0.8</text>
<line x1="89.8" y1="583.2" x2="93.3" y2="583.2" stroke="#404040" stroke-width="1.2"/>
<text transform="translate(38.51,593.66) scale(1.1050,1)" font-family='"Liberation Sans", sans-serif' font-weight="normal" font-size="30.40" fill="#000">1.0</text>
<line x1="93.3" y1="1007.6" x2="93.3" y2="1011.1" stroke="#404040" stroke-width="1.2"/>
<text transform="translate(65.08,1036.43) scale(1.1050,1)" font-family='"Liberation Sans", sans-serif' font-weight="normal" font-size="30.40" fill="#000">600</text>
<line x1="191.0" y1="1007.6" x2="191.0" y2="1011.1" stroke="#404040" stroke-width="1.2"/>
<text transform="translate(162.78,1036.43) scale(1.1050,1)" font-family='"Liberation Sans", sans-serif' font-weight="normal" font-size="30.40" fill="#000">620</text>
<line x1="288.7" y1="1007.6" x2="288.7" y2="1011.1" stroke="#404040" stroke-width="1.2"/>
<text transform="translate(260.48,1036.43) scale(1.1050,1)" font-family='"Liberation Sans", sans-serif' font-weight="normal" font-size="30.40" fill="#000">640</text>
<line x1="386.4" y1="1007.6" x2="386.4" y2="1011.1" stroke="#404040" stroke-width="1.2"/>
<text transform="translate(358.18,1036.43) scale(1.1050,1)" font-family='"Liberation Sans", sans-serif' font-weight="normal" font-size="30.40" fill="#000">660</text>
<line x1="484.1" y1="1007.6" x2="484.1" y2="1011.1" stroke="#404040" stroke-width="1.2"/>
<text transform="translate(455.88,1036.43) scale(1.1050,1)" font-family='"Liberation Sans", sans-serif' font-weight="normal" font-size="30.40" fill="#000">680</text>
<line x1="581.8" y1="1007.6" x2="581.8" y2="1011.1" stroke="#404040" stroke-width="1.2"/>
<text transform="translate(553.57,1036.43) scale(1.1050,1)" font-family='"Liberation Sans", sans-serif' font-weight="normal" font-size="30.40" fill="#000">700</text>
<text transform="translate(204.25,1070.10) scale(1.0898,1)" font-family='"Liberation Sans", sans-serif' font-weight="normal" font-size="32.12" fill="#000">Wavelength (nm)</text>
<text transform="translate(25.71,897.09) rotate(-90) scale(1.1687,1)" font-family='"Liberation Sans", sans-serif' font-weight="normal" font-size="30.09" fill="#000">Trasmittance</text>
<text transform="translate(96.57,627.00) scale(0.9956,1)" font-family='"Liberation Sans", sans-serif' font-weight="bold" font-size="40.98" fill="#000">(c)</text>
<rect x="386.2" y="889.5" width="180.59999999999997" height="102.79999999999995" rx="4" fill="#ffffff" fill-opacity="0.8" stroke="#d6d6d6" stroke-width="1.2"/>
<line x1="397.2" y1="914.8" x2="461.2" y2="914.8" stroke="#ff0000" stroke-width="2.0"/>
<line x1="397.2" y1="960.8" x2="461.2" y2="960.8" stroke="#0000ff" stroke-width="2.0"/>
<text transform="translate(485.82,925.10) scale(0.9799,1)" font-family='"Liberation Sans", sans-serif' font-weight="normal" font-size="30.79" fill="#000">P-0</text>
<text transform="translate(485.73,971.49) scale(0.9776,1)" font-family='"Liberation Sans", sans-serif' font-weight="normal" font-size="32.10" fill="#000">P-45</text>
<defs><clipPath id="clipd"><rect x="813.7" y="584.3" width="486.29999999999995" height="424.0"/></clipPath></defs>
<g clip-path="url(#clipd)">
<path d="M813.9,735.1 L815.9,736.7 L817.9,736.9 L819.9,737.3 L821.5,741.9 L823.2,745.9 L824.8,747.0 L826.4,753.7 L828.1,758.1 L829.7,764.4 L831.4,769.4 L833.0,774.2 L834.7,779.6 L836.3,786.4 L838.0,795.0 L839.6,800.4 L841.2,806.1 L842.9,814.8 L845.5,834.8 L847.2,838.1 L848.8,842.1 L851.1,849.5 L852.8,845.5 L854.4,842.7 L857.0,832.1 L858.7,809.5 L861.0,760.2 L863.3,711.8 L864.9,696.3 L866.6,679.4 L868.7,671.8 L870.9,665.3 L872.5,664.5 L874.1,663.0 L875.8,661.8 L877.4,659.7 L879.1,659.1 L880.7,659.9 L882.4,656.2 L884.0,655.9 L885.7,654.9 L887.3,654.2 L888.9,650.9 L890.8,650.5 L892.6,650.0 L894.4,649.9 L896.2,649.6 L898.2,654.7 L900.1,658.0 L902.1,661.7 L903.8,662.4 L905.4,665.8 L907.0,671.1 L908.7,674.9 L910.3,675.7 L912.0,678.1 L913.6,678.4 L915.3,681.6 L916.9,684.6 L918.6,685.6 L920.2,687.0 L921.8,688.7 L923.5,687.8 L925.1,689.8 L926.8,692.4 L928.4,696.0 L930.1,699.0 L931.7,701.8 L933.4,703.2 L935.0,705.0 L936.6,707.4 L938.3,706.0 L939.9,705.7 L941.6,703.6 L943.2,706.5 L944.9,705.5 L946.5,708.2 L948.2,708.1 L950.8,715.9 L952.1,687.4 L954.2,679.6 L956.4,672.5 L958.0,668.9 L959.7,663.3 L961.3,659.3 L963.0,659.0 L964.6,657.6 L966.2,655.3 L967.9,653.2 L969.5,654.7 L971.2,653.4 L972.8,654.7 L974.5,655.5 L976.1,657.4 L977.8,656.9 L979.4,658.0 L981.1,657.2 L982.7,656.8 L984.3,657.2 L986.0,659.7 L987.6,659.2 L989.3,658.4 L990.9,658.8 L992.6,661.6 L994.2,663.4 L995.9,664.0 L997.5,664.8 L999.1,667.7 L1000.8,670.1 L1001.4,743.7 L1003.6,754.6 L1005.7,767.0 L1007.4,770.2 L1009.0,774.0 L1010.7,769.4 L1012.3,768.2 L1013.9,764.9 L1015.6,752.2 L1017.2,739.2 L1018.9,729.4 L1020.5,721.4 L1022.2,716.9 L1023.8,709.1 L1025.5,708.0 L1027.1,708.5 L1028.8,706.0 L1030.4,712.9 L1032.0,716.5 L1033.7,720.5 L1035.3,728.3 L1037.0,736.5 L1038.6,745.0 L1040.3,750.8 L1041.9,753.3 L1043.6,759.0 L1045.2,754.6 L1046.8,753.0 L1048.5,746.7 L1050.1,739.8 L1051.8,733.3 L1053.4,727.7 L1055.0,724.5 L1056.6,719.8 L1058.3,714.7 L1059.9,710.8 L1061.5,710.8 L1063.2,709.1 L1064.8,708.9 L1066.5,711.3 L1068.1,714.6 L1069.7,716.3 L1071.4,722.0 L1073.0,729.9 L1074.7,738.7 L1076.3,747.3 L1078.0,757.8 L1079.6,768.3 L1081.3,780.1 L1082.9,792.3 L1084.6,806.2 L1086.2,815.8 L1087.8,829.3 L1089.5,838.0 L1091.1,849.4 L1092.8,855.4 L1094.4,860.0 L1096.1,858.3 L1097.7,856.7 L1099.4,849.7 L1101.7,864.3 L1104.3,844.5 L1105.9,829.2 L1107.6,816.5 L1109.2,804.9 L1110.9,789.2 L1112.5,777.2 L1114.2,765.2 L1115.8,751.9 L1117.5,736.6 L1119.1,723.4 L1120.7,714.7 L1122.4,708.5 L1124.0,697.7 L1125.7,693.4 L1127.3,688.1 L1129.0,680.7 L1130.6,674.7 L1132.3,673.9 L1133.9,670.0 L1135.6,666.1 L1137.2,664.6 L1138.8,661.4 L1140.5,659.3 L1142.1,656.5 L1143.8,656.8 L1145.4,655.3 L1147.1,653.9 L1148.7,654.3 L1150.4,651.0 L1152.0,651.0 L1153.7,651.2 L1155.3,652.1 L1156.9,651.6 L1158.6,649.3 L1160.2,648.4 L1161.9,648.3 L1163.5,648.0 L1165.2,648.7 L1166.8,646.7 L1168.5,648.7 L1170.1,648.7 L1171.8,649.1 L1173.4,649.1 L1175.0,648.8 L1176.7,648.1 L1178.3,648.2 L1180.0,648.5 L1181.6,649.9 L1183.3,647.7 L1184.9,647.9 L1186.6,649.4 L1188.2,647.7 L1189.8,647.0 L1191.5,646.7 L1193.1,648.1 L1194.8,647.3 L1196.4,649.1 L1198.1,648.6 L1199.7,649.1 L1201.4,647.1 L1203.0,646.7 L1204.7,646.9 L1206.3,648.3 L1207.9,649.1 L1209.6,648.4 L1211.2,648.0 L1212.9,648.7 L1214.5,649.5 L1216.2,649.6 L1217.8,649.8 L1219.5,650.1 L1221.1,649.6 L1222.8,648.0 L1224.4,650.1 L1226.0,648.5 L1227.7,649.3 L1229.3,648.7 L1231.0,649.8 L1232.6,649.6 L1234.3,651.1 L1235.9,652.5 L1237.6,653.5 L1239.2,657.1 L1240.9,657.6 L1242.5,656.2 L1244.1,655.8 L1245.8,657.0 L1247.4,654.9 L1249.1,653.4 L1250.7,654.6 L1252.4,653.5 L1254.0,653.9 L1255.7,651.1 L1257.3,652.0 L1259.0,652.9 L1260.6,652.9 L1262.2,652.9 L1263.9,650.2 L1265.5,650.8 L1267.2,650.2 L1268.8,650.2 L1270.5,652.4 L1272.1,651.1 L1273.8,652.0 L1275.4,650.2 L1277.0,651.4 L1278.7,650.0 L1280.3,649.2 L1282.0,650.6 L1283.6,650.9 L1285.3,648.1 L1286.9,649.4 L1288.6,649.9 L1290.2,649.1 L1291.9,649.9 L1293.5,649.7 L1295.1,650.3 L1296.8,650.8 L1298.4,652.3 L1300.1,652.4" fill="none" stroke="#ff0000" stroke-width="2.0" stroke-linejoin="round"/>
<path d="M813.9,606.6 L815.9,607.4 L817.9,608.7 L819.9,610.9 L821.5,612.8 L823.2,613.2 L824.8,614.6 L826.4,615.7 L828.1,618.4 L829.7,619.6 L831.4,620.3 L833.0,622.0 L834.7,624.2 L836.3,627.8 L838.0,631.2 L839.6,633.5 L841.2,637.0 L842.9,641.2 L844.5,643.0 L846.2,645.1 L847.8,647.4 L849.5,650.9 L851.1,652.0 L852.8,661.3 L854.4,669.7 L856.1,678.5 L857.7,690.9 L859.3,702.6 L861.3,713.0 L863.3,724.2 L864.9,716.9 L866.6,707.8 L868.7,689.3 L870.9,672.8 L872.5,658.8 L874.1,646.4 L875.8,632.5 L877.4,626.7 L879.1,619.4 L880.7,612.3 L882.4,610.0 L884.0,608.9 L885.7,607.0 L887.3,605.4 L888.9,603.3 L890.6,603.6 L892.2,602.5 L893.9,602.0 L895.5,600.7 L897.2,603.5 L898.8,606.4 L900.5,609.5 L902.1,610.5 L903.8,616.6 L905.4,622.5 L907.0,628.1 L908.7,632.1 L910.3,639.6 L912.0,648.8 L913.6,656.5 L915.3,660.0 L916.9,663.6 L918.6,669.6 L920.2,665.3 L921.8,663.0 L923.5,659.2 L925.1,653.0 L926.8,645.2 L928.4,639.7 L930.1,633.0 L931.7,627.5 L933.4,622.6 L935.0,616.8 L936.6,612.7 L938.3,609.9 L939.9,607.4 L941.6,604.7 L943.2,603.2 L944.9,601.5 L946.5,600.5 L948.2,600.1 L949.8,598.3 L951.4,594.5 L953.1,593.3 L955.2,594.4 L957.4,594.0 L959.3,604.5 L961.3,612.2 L963.0,621.8 L964.6,630.5 L966.2,639.4 L967.9,644.9 L969.5,651.1 L971.2,657.5 L972.8,656.3 L974.5,655.9 L976.1,649.0 L977.8,642.4 L979.4,635.1 L981.1,633.7 L982.7,631.0 L984.3,632.2 L986.0,634.8 L987.6,636.4 L989.3,638.7 L990.9,641.1 L992.6,644.5 L994.2,646.7 L995.9,650.4 L997.5,654.5 L999.1,657.6 L1000.8,661.8 L1002.4,665.5 L1004.1,666.0 L1005.7,668.4 L1007.4,668.7 L1009.0,671.2 L1010.7,672.6 L1012.3,675.4 L1013.9,677.9 L1015.6,682.0 L1017.2,685.0 L1018.9,694.8 L1020.5,702.2 L1022.2,712.2 L1023.8,730.0 L1025.5,747.1 L1027.1,764.8 L1028.8,784.5 L1030.4,806.7 L1032.0,826.7 L1034.2,848.9 L1036.3,870.2 L1038.3,862.3 L1040.3,856.8 L1041.9,843.9 L1043.6,829.2 L1045.2,816.6 L1046.8,806.3 L1048.5,794.3 L1050.1,784.7 L1051.8,777.0 L1053.4,771.4 L1055.1,763.6 L1056.7,762.9 L1058.3,762.4 L1059.9,759.8 L1061.5,761.8 L1063.2,764.1 L1064.8,765.6 L1066.5,770.0 L1068.1,775.2 L1069.7,780.1 L1071.4,788.1 L1073.0,794.2 L1074.7,801.2 L1076.3,805.4 L1078.0,811.9 L1079.6,816.2 L1081.3,819.4 L1082.9,822.1 L1084.6,820.0 L1086.2,819.2 L1087.8,817.0 L1089.5,816.2 L1091.1,816.0 L1092.8,813.7 L1094.4,814.5 L1096.1,813.5 L1097.7,812.6 L1099.4,812.9 L1101.0,811.6 L1102.6,809.0 L1104.3,804.4 L1105.9,800.2 L1107.6,793.3 L1109.2,785.0 L1110.9,776.9 L1112.5,768.0 L1114.2,756.9 L1115.8,748.4 L1117.5,737.5 L1119.1,728.3 L1120.7,719.1 L1122.4,709.6 L1124.0,700.9 L1125.7,691.5 L1127.3,685.2 L1129.0,679.5 L1130.6,674.0 L1132.3,669.1 L1133.9,664.2 L1135.6,659.8 L1137.2,656.0 L1138.8,650.1 L1140.5,648.1 L1142.1,646.6 L1143.8,643.3 L1145.4,641.1 L1147.1,639.5 L1148.7,636.9 L1150.4,636.0 L1152.0,634.3 L1153.7,633.6 L1155.3,632.3 L1156.9,630.2 L1158.6,629.6 L1160.2,628.1 L1161.9,626.3 L1163.5,626.5 L1165.2,624.1 L1166.8,622.7 L1168.5,621.4 L1170.1,621.8 L1171.8,621.7 L1173.4,621.0 L1175.0,619.8 L1176.7,619.0 L1178.3,618.0 L1180.0,618.6 L1181.6,618.0 L1183.3,617.2 L1184.9,617.3 L1186.6,616.5 L1188.2,617.0 L1189.8,616.2 L1191.5,614.9 L1193.1,615.7 L1194.8,613.7 L1196.4,614.5 L1198.1,614.1 L1199.7,613.7 L1201.4,613.3 L1203.0,614.4 L1204.7,612.9 L1206.3,613.8 L1207.9,614.4 L1209.6,612.8 L1211.2,612.9 L1212.9,613.5 L1214.5,613.2 L1216.2,613.4 L1217.8,613.6 L1219.5,612.4 L1221.1,612.6 L1222.8,612.8 L1224.4,612.5 L1226.0,614.2 L1227.7,614.2 L1229.3,614.3 L1231.0,613.3 L1232.6,615.0 L1234.3,615.0 L1235.9,615.7 L1237.6,617.5 L1239.2,618.2 L1240.9,619.0 L1242.5,622.1 L1244.1,625.6 L1245.8,628.5 L1247.4,632.4 L1249.4,638.6 L1251.4,644.0 L1253.4,649.7 L1255.2,645.1 L1257.1,639.9 L1259.0,636.0 L1260.6,632.9 L1262.2,630.5 L1263.9,627.1 L1265.5,623.7 L1267.2,621.4 L1268.8,621.6 L1270.5,619.8 L1272.1,620.6 L1273.8,618.6 L1275.4,618.6 L1277.0,618.2 L1278.7,618.7 L1280.3,618.6 L1282.0,617.9 L1283.6,616.8 L1285.3,617.4 L1286.9,616.0 L1288.6,615.5 L1290.2,616.3 L1291.9,615.6 L1293.5,615.6 L1295.1,615.3 L1296.8,615.7 L1298.4,614.7 L1300.1,614.6" fill="none" stroke="#0000ff" stroke-width="2.0" stroke-linejoin="round"/>
</g>
<rect x="813.7" y="586.3" width="486.29999999999995" height="420.0" fill="none" stroke="#404040" stroke-width="1.3"/>
<line x1="810.2" y1="1006.3" x2="813.7" y2="1006.3" stroke="#404040" stroke-width="1.2"/>
<text transform="translate(758.91,1016.76) scale(1.1050,1)" font-family='"Liberation Sans", sans-serif' font-weight="normal" font-size="30.40" fill="#000">0.0</text>
<line x1="810.2" y1="922.3" x2="813.7" y2="922.3" stroke="#404040" stroke-width="1.2"/>
<text transform="translate(759.29,932.76) scale(1.1050,1)" font-family='"Liberation Sans", sans-serif' font-weight="normal" font-size="30.40" fill="#000">0.2</text>
<line x1="810.2" y1="838.3" x2="813.7" y2="838.3" stroke="#404040" stroke-width="1.2"/>
<text transform="translate(758.59,848.76) scale(1.1050,1)" font-family='"Liberation Sans", sans-serif' font-weight="normal" font-size="30.40" fill="#000">0.4</text>
<line x1="810.2" y1="754.3" x2="813.7" y2="754.3" stroke="#404040" stroke-width="1.2"/>
<text transform="translate(759.08,764.76) scale(1.1050,1)" font-family='"Liberation Sans", sans-serif' font-weight="normal" font-size="30.40" fill="#000">0.6</text>
<line x1="810.2" y1="670.3" x2="813.7" y2="670.3" stroke="#404040" stroke-width="1.2"/>
<text transform="translate(759.06,680.76) scale(1.1050,1)" font-family='"Liberation Sans", sans-serif' font-weight="normal" font-size="30.40" fill="#000">0.8</text>
<line x1="810.2" y1="586.3" x2="813.7" y2="586.3" stroke="#404040" stroke-width="1.2"/>
<text transform="translate(758.91,596.76) scale(1.1050,1)" font-family='"Liberation Sans", sans-serif' font-weight="normal" font-size="30.40" fill="#000">1.0</text>
<line x1="813.7" y1="1006.3" x2="813.7" y2="1009.8" stroke="#404040" stroke-width="1.2"/>
<text transform="translate(785.48,1035.13) scale(1.1050,1)" font-family='"Liberation Sans", sans-serif' font-weight="normal" font-size="30.40" fill="#000">600</text>
<line x1="911.0" y1="1006.3" x2="911.0" y2="1009.8" stroke="#404040" stroke-width="1.2"/>
<text transform="translate(882.74,1035.13) scale(1.1050,1)" font-family='"Liberation Sans", sans-serif' font-weight="normal" font-size="30.40" fill="#000">620</text>
<line x1="1008.2" y1="1006.3" x2="1008.2" y2="1009.8" stroke="#404040" stroke-width="1.2"/>
<text transform="translate(980.00,1035.13) scale(1.1050,1)" font-family='"Liberation Sans", sans-serif' font-weight="normal" font-size="30.40" fill="#000">640</text>
<line x1="1105.5" y1="1006.3" x2="1105.5" y2="1009.8" stroke="#404040" stroke-width="1.2"/>
<text transform="translate(1077.26,1035.13) scale(1.1050,1)" font-family='"Liberation Sans", sans-serif' font-weight="normal" font-size="30.40" fill="#000">660</text>
<line x1="1202.7" y1="1006.3" x2="1202.7" y2="1009.8" stroke="#404040" stroke-width="1.2"/>
<text transform="translate(1174.52,1035.13) scale(1.1050,1)" font-family='"Liberation Sans", sans-serif' font-weight="normal" font-size="30.40" fill="#000">680</text>
<line x1="1300.0" y1="1006.3" x2="1300.0" y2="1009.8" stroke="#404040" stroke-width="1.2"/>
<text transform="translate(1271.77,1035.13) scale(1.1050,1)" font-family='"Liberation Sans", sans-serif' font-weight="normal" font-size="30.40" fill="#000">700</text>
<text transform="translate(924.65,1068.80) scale(1.0898,1)" font-family='"Liberation Sans", sans-serif' font-weight="normal" font-size="32.12" fill="#000">Wavelength (nm)</text>
<text transform="translate(746.60,896.89) rotate(-90) scale(1.1211,1)" font-family='"Liberation Sans", sans-serif' font-weight="normal" font-size="31.18" fill="#000">Trasmittance</text>
<text transform="translate(829.47,627.00) scale(0.9928,1)" font-family='"Liberation Sans", sans-serif' font-weight="bold" font-size="40.98" fill="#000">(d)</text>
<rect x="1105.1" y="890" width="179.5" height="101.60000000000002" rx="4" fill="#ffffff" fill-opacity="0.8" stroke="#d6d6d6" stroke-width="1.2"/>
<line x1="1115.9" y1="914.8" x2="1180" y2="914.8" stroke="#ff0000" stroke-width="2.0"/>
<line x1="1115.9" y1="960.3" x2="1180" y2="960.3" stroke="#0000ff" stroke-width="2.0"/>
<text transform="translate(1204.43,925.09) scale(0.9601,1)" font-family='"Liberation Sans", sans-serif' font-weight="normal" font-size="31.36" fill="#000">P-0</text>
<text transform="translate(1204.35,971.08) scale(0.9570,1)" font-family='"Liberation Sans", sans-serif' font-weight="normal" font-size="32.53" fill="#000">P-45</text>
<text transform="translate(84.86,562.17) scale(1.0232,1)" font-family='"Liberation Serif", serif' font-weight="normal" font-size="44.63" fill="#000">With alignment layer</text>
<text transform="translate(809.86,562.17) scale(1.0271,1)" font-family='"Liberation Serif", serif' font-weight="normal" font-size="44.63" fill="#000">With nano-disc alignment</text>
<text transform="translate(96.57,1137.84) scale(1.0008,1)" font-family='"Liberation Sans", sans-serif' font-weight="bold" font-size="40.77" fill="#000">(e)</text>
<text transform="translate(840.46,1137.84) scale(1.0064,1)" font-family='"Liberation Sans", sans-serif' font-weight="bold" font-size="40.77" fill="#000">(f)</text>
<defs><clipPath id="cpe1"><rect x="162.3" y="1117" width="163" height="150.4"/></clipPath><filter id="rough" x="-20%" y="-20%" width="140%" height="140%"><feTurbulence type="fractalNoise" baseFrequency="0.12" numOctaves="3" seed="5" result="n"/><feDisplacementMap in="SourceGraphic" in2="n" scale="14" xChannelSelector="R" yChannelSelector="G"/><feGaussianBlur stdDeviation="1.3"/></filter><filter id="rough2" x="-20%" y="-20%" width="140%" height="140%"><feTurbulence type="fractalNoise" baseFrequency="0.08" numOctaves="2" seed="11" result="n"/><feDisplacementMap in="SourceGraphic" in2="n" scale="10" xChannelSelector="R" yChannelSelector="G"/><feGaussianBlur stdDeviation="1"/></filter></defs>
<g clip-path="url(#cpe1)">
<rect x="162.3" y="1117" width="163" height="150.4" fill="#1e1814"/>
<g filter="url(#rough)"><ellipse cx="178" cy="1145" rx="17" ry="26" fill="#8c8c8a" opacity="0.85"/><ellipse cx="183" cy="1175" rx="6" ry="14" fill="#7a7a78" opacity="0.7"/><ellipse cx="268" cy="1130" rx="34" ry="11" fill="#8e8e8c" opacity="0.8"/><ellipse cx="190" cy="1210" rx="5" ry="12" fill="#6a6a68" opacity="0.6"/><ellipse cx="268" cy="1258" rx="62" ry="12" fill="#a4a4a2" opacity="0.9"/></g>
<defs><linearGradient id="e1g" x1="0" y1="0" x2="1" y2="1"><stop offset="0" stop-color="#c98a58"/><stop offset="0.5" stop-color="#cf9362"/><stop offset="1" stop-color="#c98648"/></linearGradient></defs>
<rect x="197" y="1147" width="105" height="100.5" fill="url(#e1g)"/>
<rect x="197" y="1147" width="105" height="5" fill="#b87448" opacity="0.35"/>
<rect x="197" y="1149" width="13" height="98" fill="#dcc084"/>
</g>
<line x1="190.1" y1="1250.3" x2="243.9" y2="1298.2" stroke="#c40000" stroke-width="5"/>
<path d="M183.5,1244.5 L186.7,1257.4 L196.7,1246.2 Z" fill="#c40000"/>
<path d="M250.5,1304.0 L237.3,1302.3 L247.3,1291.1 Z" fill="#c40000"/>
<defs><clipPath id="cpe2"><rect x="346" y="1115.5" width="161" height="154.5"/></clipPath><linearGradient id="e2g" x1="0" y1="0" x2="1" y2="1"><stop offset="0" stop-color="#8a5a2c"/><stop offset="0.35" stop-color="#7c4216"/><stop offset="1" stop-color="#7a3e16"/></linearGradient></defs>
<g clip-path="url(#cpe2)">
<rect x="346" y="1115.5" width="161" height="154.5" fill="#c8b283"/>
<g filter="url(#blur2)"><ellipse cx="352" cy="1120" rx="8" ry="6" fill="#2a1a10"/><ellipse cx="350" cy="1265" rx="6" ry="9" fill="#3a2a1a"/><ellipse cx="360" cy="1230" rx="10" ry="25" fill="#b8a070" opacity="0.7"/><ellipse cx="500" cy="1160" rx="10" ry="6" fill="#9a8060" opacity="0.6"/></g>
<path d="M424.4,1118 L503,1190.8 L424.4,1264.5 L348.5,1189.3 Z" fill="#eed8b0" filter="url(#blur1)"/>
<path d="M424.4,1123 L497,1190.8 L424.4,1259 L355,1189.3 Z" fill="#3a2010"/>
<path d="M424.4,1126 L490.5,1190.8 L424.4,1252 L358.5,1189.3 Z" fill="#7a3e14"/>
<path d="M358.5,1189.3 L424.4,1126 L428,1130 L363,1191 Z" fill="#865426" opacity="0.6"/>
</g>
<line x1="378.5" y1="1292.4" x2="464.6" y2="1292.4" stroke="#c40000" stroke-width="6.5"/>
<path d="M371.3,1292.4 L380.3,1302.4 L380.3,1282.4 Z" fill="#c40000"/>
<path d="M471.8,1292.4 L462.8,1302.4 L462.8,1282.4 Z" fill="#c40000"/>
<line x1="713.2" y1="1158" x2="713.2" y2="1272" stroke="#000" stroke-width="3.3"/>
<line x1="656" y1="1211.7" x2="770" y2="1211.7" stroke="#000" stroke-width="3.3"/>
<path d="M713.2,1152.7 L719.6,1161 L706.8,1161 Z" fill="#000"/>
<path d="M713.2,1277 L719.6,1268.7 L706.8,1268.7 Z" fill="#000"/>
<path d="M651,1211.7 L659.3,1205.3 L659.3,1218.1 Z" fill="#000"/>
<path d="M775,1211.7 L766.7,1205.3 L766.7,1218.1 Z" fill="#000"/>
<text transform="translate(693.23,1144.90) scale(0.9483,1)" font-family='"Liberation Sans", sans-serif' font-weight="normal" font-size="39.53" fill="#000">Ay</text>
<text transform="translate(603.01,1219.30) scale(0.9630,1)" font-family='"Liberation Sans", sans-serif' font-weight="normal" font-size="40.41" fill="#000">Px</text>
<defs><clipPath id="cpf1"><rect x="893" y="1114" width="163" height="151.3"/></clipPath><linearGradient id="f1g" x1="0.1" y1="0" x2="0.5" y2="0.9"><stop offset="0" stop-color="#8a3a1c" stop-opacity="1"/><stop offset="0.22" stop-color="#a05028" stop-opacity="0.75"/><stop offset="0.5" stop-color="#d8a86c" stop-opacity="0"/></linearGradient></defs>
<g clip-path="url(#cpf1)">
<rect x="893" y="1114" width="163" height="151.3" fill="#ebe2cf"/>
<g filter="url(#rough2)"><path d="M886,1168 Q905,1158 928,1162 L929,1238 Q918,1250 912,1270 L886,1270 Z" fill="#3c2a22"/><path d="M1049,1158 L1062,1156 L1062,1270 L1046,1270 Q1050,1250 1049,1230 Z" fill="#4a3428"/><ellipse cx="915" cy="1125" rx="10" ry="6" fill="#a89c8a" opacity="0.6"/><ellipse cx="1000" cy="1122" rx="10" ry="5" fill="#9a8e80" opacity="0.5"/><ellipse cx="1045" cy="1135" rx="8" ry="8" fill="#6a5a4a" opacity="0.6"/></g>
<path d="M944,1138 Q975,1118 1012,1138 Q975,1128 944,1142 Z" fill="#3a2418" stroke="#3a2418" stroke-width="3" filter="url(#blur08)"/>
<path d="M950,1140 Q980,1134 1008,1140 L1008,1143 L950,1143 Z" fill="#fffaf0" filter="url(#blur08)"/>
<rect x="926.7" y="1143" width="104" height="95" fill="#d9a96c"/>
<rect x="926.7" y="1143" width="104" height="95" fill="url(#f1g)"/>
<rect x="1016" y="1150" width="15" height="88" fill="#e4bc82" opacity="0.9"/>
<line x1="1016" y1="1155" x2="1016" y2="1236" stroke="#6a4624" stroke-width="1.3" stroke-dasharray="3 2"/>
<g filter="url(#blur1)" fill="none" stroke="#8a8276" stroke-width="1" opacity="0.6"><path d="M960,1255 Q975,1245 995,1252 M1000,1248 Q1010,1258 1030,1262"/></g>
</g>
<line x1="908.0" y1="1245.4" x2="961.7" y2="1292.5" stroke="#c40000" stroke-width="5"/>
<path d="M901.4,1239.6 L904.7,1252.5 L914.6,1241.2 Z" fill="#c40000"/>
<path d="M968.3,1298.3 L955.1,1296.7 L965.0,1285.4 Z" fill="#c40000"/>
<defs><clipPath id="cpf2"><rect x="1075.8" y="1114" width="162.3" height="154"/></clipPath><linearGradient id="f2g" x1="0.2" y1="0" x2="0.5" y2="1"><stop offset="0" stop-color="#b08648"/><stop offset="0.4" stop-color="#8c5530"/><stop offset="1" stop-color="#6e3420"/></linearGradient></defs>
<g clip-path="url(#cpf2)">
<rect x="1075.8" y="1114" width="162.3" height="154" fill="#d4cec2"/>
<path d="M1075,1160 L1115,1114 L1160,1114 L1238,1190 L1238,1268 L1175,1268 L1075,1175 Z" fill="#e8e2d6" filter="url(#blur2)"/>
<g filter="url(#blur1)"><path d="M1072,1110 L1103,1110 L1072,1142 Z" fill="#6a2a18"/><path d="M1208,1110 L1242,1110 L1242,1148 Z" fill="#6e3822"/></g>
<g filter="url(#rough2)" fill="none" stroke="#2a2a2a" stroke-width="1.6" opacity="0.8"><path d="M1102,1114 Q1120,1135 1150,1128 Q1190,1128 1210,1140 Q1225,1170 1232,1190 Q1225,1230 1190,1268"/><path d="M1076,1215 Q1100,1230 1120,1250 Q1135,1262 1145,1268"/><path d="M1076,1160 L1110,1125"/></g>
<path d="M1140,1126 L1228,1190 L1160,1266 L1076,1206 Z" fill="#ece4d4" filter="url(#blur1)"/>
<path d="M1147.1,1135.6 L1216,1190.2 L1158.2,1255.2 L1088.5,1202.9 Z" fill="url(#f2g)"/>
<path d="M1147.1,1135.6 L1216,1190.2" stroke="#5a3a1a" stroke-width="1.5" opacity="0.6"/>
<circle cx="1119" cy="1265" r="6" fill="#ffffff" filter="url(#blur1)"/>
</g>
<line x1="1103.6" y1="1288.7" x2="1190.5" y2="1288.7" stroke="#c40000" stroke-width="6.5"/>
<path d="M1096.4,1288.7 L1105.4,1298.7 L1105.4,1278.7 Z" fill="#c40000"/>
<path d="M1197.7,1288.7 L1188.7,1298.7 L1188.7,1278.7 Z" fill="#c40000"/>
</svg></body></html>
